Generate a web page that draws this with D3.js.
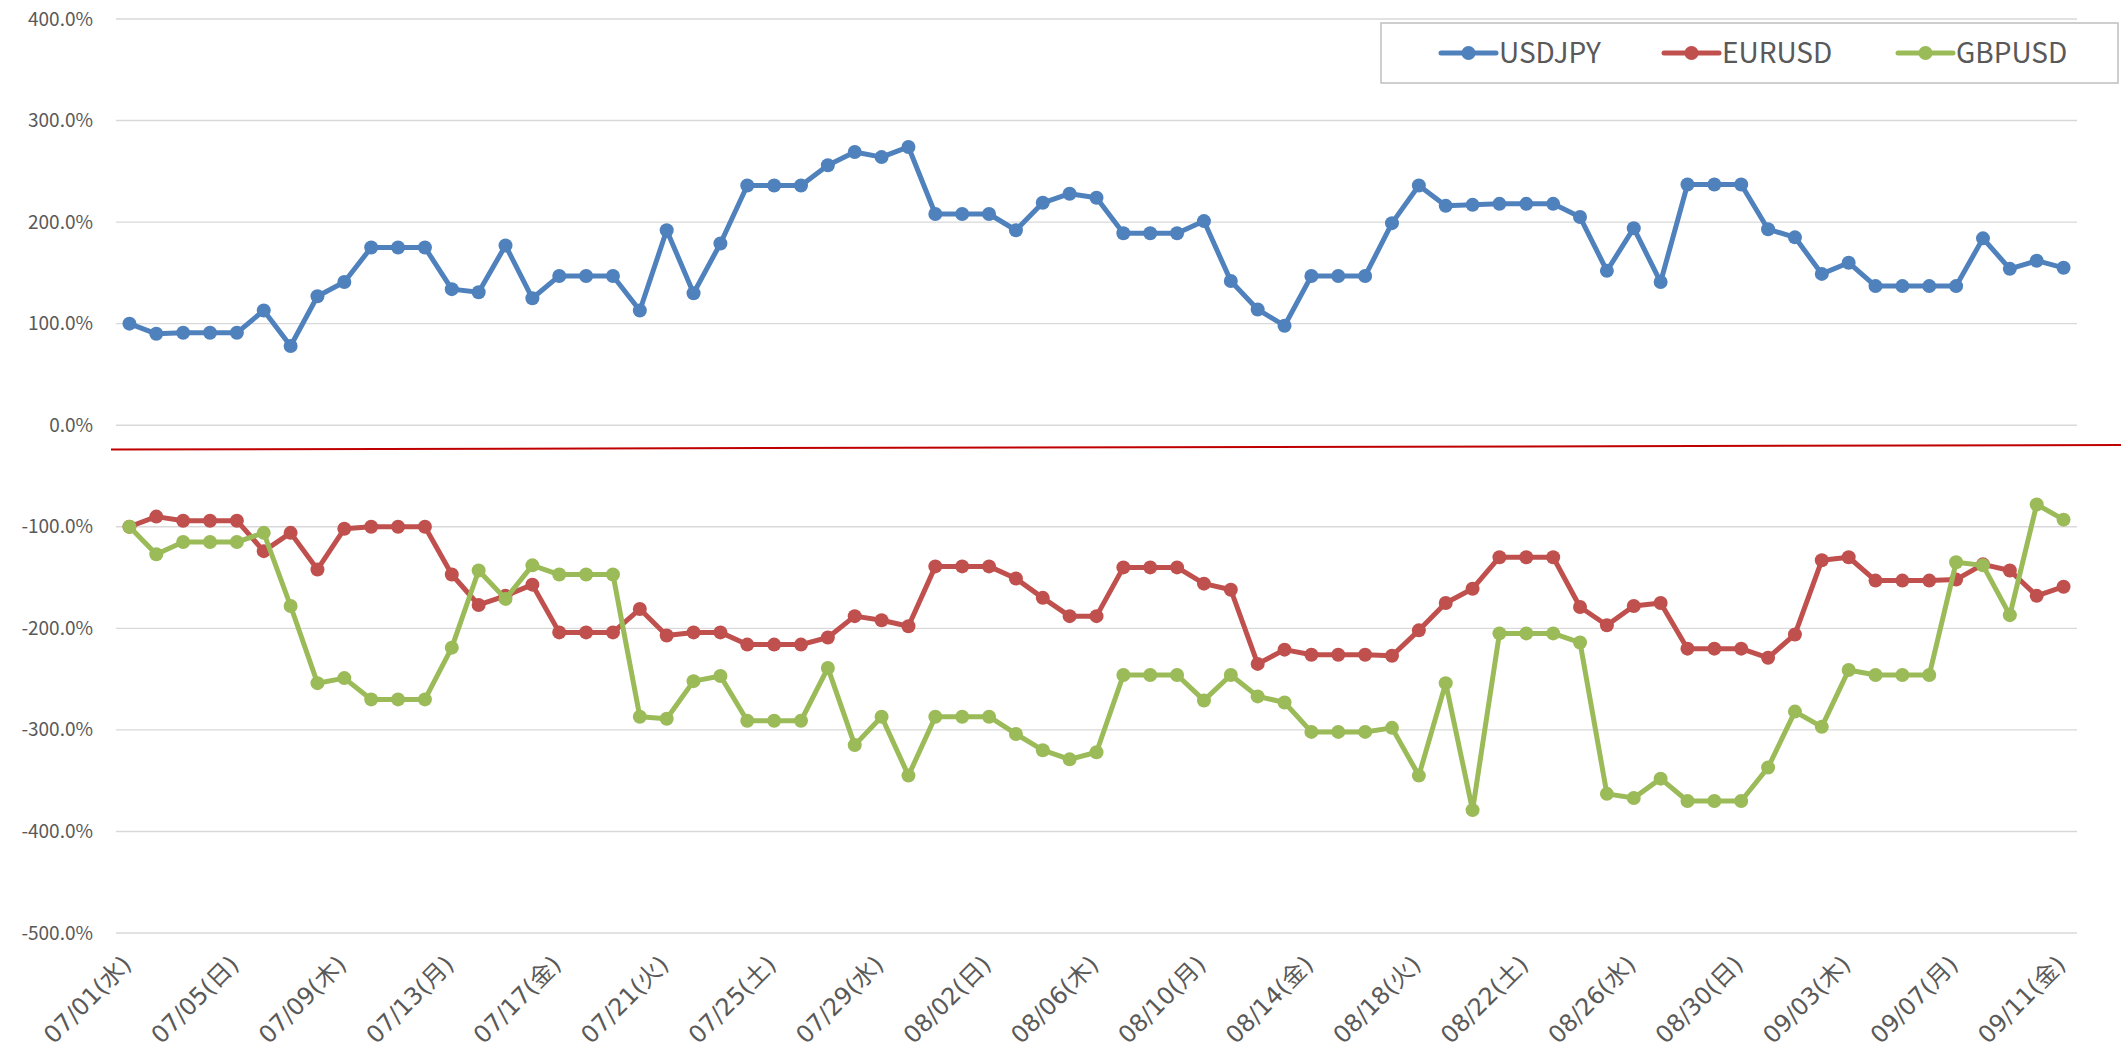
<!DOCTYPE html>
<html>
<head>
<meta charset="utf-8">
<script src="https://cdn.jsdelivr.net/npm/d3@7"></script>
<style>
  body { margin: 0; background: #fff; }
  svg { display: block; }
</style>
</head>
<body>
<script>
// categories (2015/07/01 - 09/11)
var dates = [
  "07/01(水)","07/02(木)","07/03(金)","07/04(土)","07/05(日)","07/06(月)","07/07(火)","07/08(水)",
  "07/09(木)","07/10(金)","07/11(土)","07/12(日)","07/13(月)","07/14(火)","07/15(水)","07/16(木)",
  "07/17(金)","07/18(土)","07/19(日)","07/20(月)","07/21(火)","07/22(水)","07/23(木)","07/24(金)",
  "07/25(土)","07/26(日)","07/27(月)","07/28(火)","07/29(水)","07/30(木)","07/31(金)",
  "08/01(土)","08/02(日)","08/03(月)","08/04(火)","08/05(水)","08/06(木)","08/07(金)","08/08(土)",
  "08/09(日)","08/10(月)","08/11(火)","08/12(水)","08/13(木)","08/14(金)","08/15(土)","08/16(日)",
  "08/17(月)","08/18(火)","08/19(水)","08/20(木)","08/21(金)","08/22(土)","08/23(日)","08/24(月)",
  "08/25(火)","08/26(水)","08/27(木)","08/28(金)","08/29(土)","08/30(日)","08/31(月)",
  "09/01(火)","09/02(水)","09/03(木)","09/04(金)","09/05(土)","09/06(日)","09/07(月)","09/08(火)",
  "09/09(水)","09/10(木)","09/11(金)"
];

var tickLabels = ["07/01(水)","07/05(日)","07/09(木)","07/13(月)","07/17(金)","07/21(火)","07/25(土)",
  "07/29(水)","08/02(日)","08/06(木)","08/10(月)","08/14(金)","08/18(火)","08/22(土)","08/26(水)",
  "08/30(日)","09/03(木)","09/07(月)","09/11(金)"];

var yTicks = [400, 300, 200, 100, 0, -100, -200, -300, -400, -500];

// series values (%)
var usdjpy = [100, 90, 91, 91, 91, 113, 78, 127, 141, 175, 175, 175, 134, 131, 177, 125, 147, 147, 147,
  113, 192, 130, 179, 236, 236, 236, 256, 269, 264, 274, 208, 208, 208, 192, 219, 228, 224,
  189, 189, 189, 201, 142, 114, 98, 147, 147, 147, 199, 236, 216, 217, 218, 218, 218, 205,
  152, 194, 141, 237, 237, 237, 193, 185, 149, 160, 137, 137, 137, 137, 184, 154, 162, 155];

var eurusd = [-100, -90, -94, -94, -94, -124, -106, -142, -102, -100, -100, -100, -147, -177, -168, -157, -204, -204, -204,
  -181, -207, -204, -204, -216, -216, -216, -209, -188, -192, -198, -139, -139, -139, -151, -170, -188, -188,
  -140, -140, -140, -156, -162, -235, -221, -226, -226, -226, -227, -202, -175, -161, -130, -130, -130, -179,
  -197, -178, -175, -220, -220, -220, -229, -206, -133, -130, -153, -153, -153, -152, -137, -143, -168, -159];

var gbpusd = [-100, -127, -115, -115, -115, -106, -178, -254, -249, -270, -270, -270, -219, -143, -171, -138, -147, -147, -147,
  -287, -289, -252, -247, -291, -291, -291, -239, -315, -287, -345, -287, -287, -287, -304, -320, -329, -322,
  -246, -246, -246, -271, -246, -267, -273, -302, -302, -302, -298, -345, -254, -379, -205, -205, -205, -214,
  -363, -367, -348, -370, -370, -370, -337, -282, -297, -241, -246, -246, -246, -135, -138, -187, -78, -93];

var seriesNames = ["USDJPY", "EURUSD", "GBPUSD"];
var seriesColors = ["#4f81bd", "#c0504d", "#9bbb59"];
var seriesData = [usdjpy, eurusd, gbpusd];

// red reference line (%), left and right end
var refLine = [-24, -19.5];

var width = 2121, height = 1057;
var plotLeft = 116, plotRight = 2077, plotTop = 19, plotBottom = 933;

var svg = d3.select("body")
    .append("svg")
    .attr("width", width)
    .attr("height", height);

var xscale = d3.scalePoint()
    .domain(dates)
    .range([plotLeft, plotRight])
    .padding(0.5);

var yscale = d3.scaleLinear()
    .domain([-500, 400])
    .range([plotBottom, plotTop]);

// gridlines
svg.append("g")
    .selectAll("line")
    .data(yTicks)
    .enter()
    .append("line")
    .attr("x1", plotLeft)
    .attr("x2", plotRight)
    .attr("y1", function(d) { return yscale(d); })
    .attr("y2", function(d) { return yscale(d); })
    .style("stroke", "#d9d9d9")
    .style("stroke-width", 1.4);

// y axis labels
var yaxis = d3.axisLeft(yscale)
    .tickValues(yTicks)
    .tickSize(0)
    .tickPadding(23)
    .tickFormat(function(d) { return d.toFixed(1) + "%"; });

svg.append("g")
    .attr("id", "y-axis")
    .attr("transform", "translate(" + plotLeft + ",0)")
    .call(yaxis)
    .call(function(g) { g.select(".domain").remove(); })
    .selectAll("text")
    .style("font-family", "'Noto Sans CJK JP', sans-serif")
    .style("font-size", "19px")
    .style("fill", "#595959");

// x axis labels
var xaxis = d3.axisBottom(xscale)
    .tickValues(tickLabels)
    .tickSize(0)
    .tickPadding(0);

svg.append("g")
    .attr("id", "x-axis")
    .attr("transform", "translate(0," + plotBottom + ")")
    .call(xaxis)
    .call(function(g) { g.select(".domain").remove(); })
    .selectAll("text")
    .style("font-family", "'DejaVu Sans', 'Noto Sans CJK JP', sans-serif")
    .style("font-size", "24px")
    .style("fill", "#595959")
    .style("text-anchor", "end")
    .attr("dy", 0)
    .attr("y", 0)
    .attr("transform", "translate(3,33) rotate(-45)");

// red line
svg.append("line")
    .attr("x1", 111)
    .attr("x2", width)
    .attr("y1", yscale(refLine[0]))
    .attr("y2", yscale(refLine[1]))
    .style("stroke", "#c00000")
    .style("stroke-width", 2);

// series
var line = d3.line()
    .x(function(d, i) { return xscale(dates[i]); })
    .y(function(d) { return yscale(d); });

seriesData.forEach(function(values, s) {
  svg.append("path")
      .datum(values)
      .attr("d", line)
      .style("fill", "none")
      .style("stroke", seriesColors[s])
      .style("stroke-width", 5)
      .style("stroke-linejoin", "round");

  svg.append("g")
      .selectAll("circle")
      .data(values)
      .enter()
      .append("circle")
      .attr("cx", function(d, i) { return xscale(dates[i]); })
      .attr("cy", function(d) { return yscale(d); })
      .attr("r", 7)
      .style("fill", seriesColors[s]);
});

// legend
var legend = svg.append("g").attr("id", "legend");
legend.append("rect")
    .attr("x", 1381)
    .attr("y", 23)
    .attr("width", 737)
    .attr("height", 60)
    .style("fill", "#fff")
    .style("stroke", "#bfbfbf")
    .style("stroke-width", 1.5);

var legendX = [1441, 1664, 1898];
seriesNames.forEach(function(name, s) {
  var g = legend.append("g").attr("transform", "translate(" + legendX[s] + ",53)");
  g.append("line")
      .attr("x1", 0).attr("x2", 55)
      .style("stroke", seriesColors[s])
      .style("stroke-width", 5)
      .style("stroke-linecap", "round");
  g.append("circle")
      .attr("cx", 27.5)
      .attr("r", 7)
      .style("fill", seriesColors[s]);
  g.append("text")
      .attr("x", 58)
      .attr("dy", "0.35em")
      .text(name)
      .style("font-family", "'Noto Sans CJK JP', sans-serif")
      .style("font-size", "28px")
      .style("fill", "#595959");
});
</script>
</body>
</html>
